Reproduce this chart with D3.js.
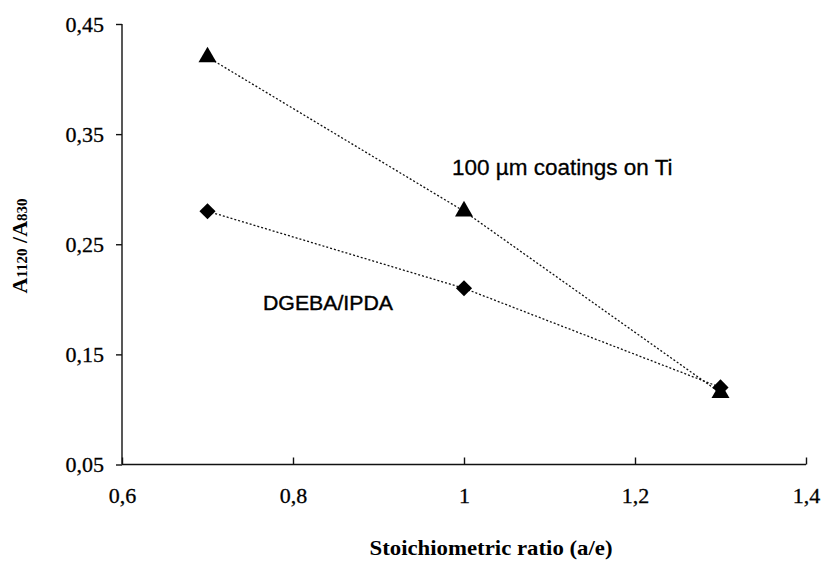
<!DOCTYPE html>
<html>
<head>
<meta charset="utf-8">
<script src="https://cdn.jsdelivr.net/npm/d3@7"></script>
<style>
  body { margin:0; background:#fff; }
  svg { display:block; }
</style>
</head>
<body>
<svg></svg>
<script>
//****************************** data *****************************//
var ratios = [0.7, 1.0, 1.3];
var triangleVals = [0.42, 0.28, 0.115];
var diamondVals = [0.28, 0.21, 0.12];
var xTicks = [0.6, 0.8, 1.0, 1.2, 1.4];
var yTicks = [0.05, 0.15, 0.25, 0.35, 0.45];

//****************************** chart *****************************//
var screen = {width:823, height:570};
var svg = d3.select("svg")
  .attr("width", screen.width)
  .attr("height", screen.height);

var xScale = d3.scaleLinear().domain([0.6, 1.4]).range([122, 806]);
var yScale = d3.scaleLinear().domain([0.05, 0.45]).range([464.5, 24]);

var comma = function(v) { return d3.format("~g")(v).replace(".", ","); };

// y axis, ticks outside
var yAxis = d3.axisLeft(yScale).tickValues(yTicks).tickSize(6).tickPadding(12)
  .tickFormat(comma);
var yG = svg.append("g")
  .attr("transform", "translate(" + xScale(0.6) + ",0)")
  .call(yAxis);
yG.select(".domain").attr("d", "M0," + yScale(0.45) + "V" + yScale(0.05));

// x axis, ticks inside
var xAxis = d3.axisBottom(xScale).tickValues(xTicks).tickSize(-7).tickPadding(23)
  .tickFormat(comma);
var xG = svg.append("g")
  .attr("transform", "translate(0," + yScale(0.05) + ")")
  .call(xAxis);
xG.select(".domain").attr("d", "M" + xScale(0.6) + ",0H" + xScale(1.4));

svg.selectAll(".tick text")
  .attr("font-family", "'Liberation Serif', 'Times New Roman', serif")
  .attr("font-size", 22)
  .attr("fill", "#000")
  .attr("stroke", "#000")
  .attr("stroke-width", 0.3);
svg.selectAll(".domain, .tick line").attr("stroke", "#111").attr("stroke-width", 1.4);

// series
var line = d3.line()
  .x(function(d) { return xScale(d[0]); })
  .y(function(d) { return yScale(d[1]); });

var series = [
  {vals: triangleVals, shape: d3.symbolTriangle, size: 140, rot: 0},
  {vals: diamondVals, shape: d3.symbolSquare, size: 130, rot: 45}
];

series.forEach(function(s) {
  var pts = ratios.map(function(r, i) { return [r, s.vals[i]]; });
  svg.append("path")
    .datum(pts)
    .attr("d", line)
    .attr("fill", "none")
    .attr("stroke", "#111")
    .attr("stroke-width", 1.3)
    .attr("stroke-dasharray", "2,2");
});

series.forEach(function(s) {
  var pts = ratios.map(function(r, i) { return [r, s.vals[i]]; });
  svg.selectAll(null)
    .data(pts)
    .enter()
    .append("path")
    .attr("d", d3.symbol().type(s.shape).size(s.size))
    .attr("transform", function(d) {
      return "translate(" + xScale(d[0]) + "," + yScale(d[1]) + ") rotate(" + s.rot + ")";
    })
    .attr("fill", "#000");
});

// annotations
svg.append("text")
  .attr("x", 452).attr("y", 175)
  .attr("font-family", "'Liberation Sans', Arial, sans-serif")
  .attr("font-size", 22.5)
  .attr("stroke", "#000").attr("stroke-width", 0.3)
  .text("100 µm coatings on Ti");

svg.append("text")
  .attr("x", 263).attr("y", 310)
  .attr("font-family", "'Liberation Sans', Arial, sans-serif")
  .attr("font-size", 20)
  .attr("stroke", "#000").attr("stroke-width", 0.4)
  .attr("textLength", 130)
  .attr("lengthAdjust", "spacingAndGlyphs")
  .text("DGEBA/IPDA");

// axis titles
svg.append("text")
  .attr("x", 491).attr("y", 555)
  .attr("text-anchor", "middle")
  .attr("font-family", "'Liberation Serif', 'Times New Roman', serif")
  .attr("font-weight", "bold")
  .attr("font-size", 22)
  .attr("textLength", 243)
  .attr("lengthAdjust", "spacingAndGlyphs")
  .text("Stoichiometric ratio (a/e)");

var yTitle = svg.append("text")
  .attr("transform", "translate(27,246) rotate(-90)")
  .attr("text-anchor", "middle")
  .attr("font-family", "'Liberation Serif', 'Times New Roman', serif")
  .attr("font-weight", "bold")
  .attr("font-size", 22);
yTitle.append("tspan").text("A");
yTitle.append("tspan").attr("font-size", 15).text("1120");
yTitle.append("tspan").text(" /A");
yTitle.append("tspan").attr("font-size", 15).text("830");
</script>
</body>
</html>
